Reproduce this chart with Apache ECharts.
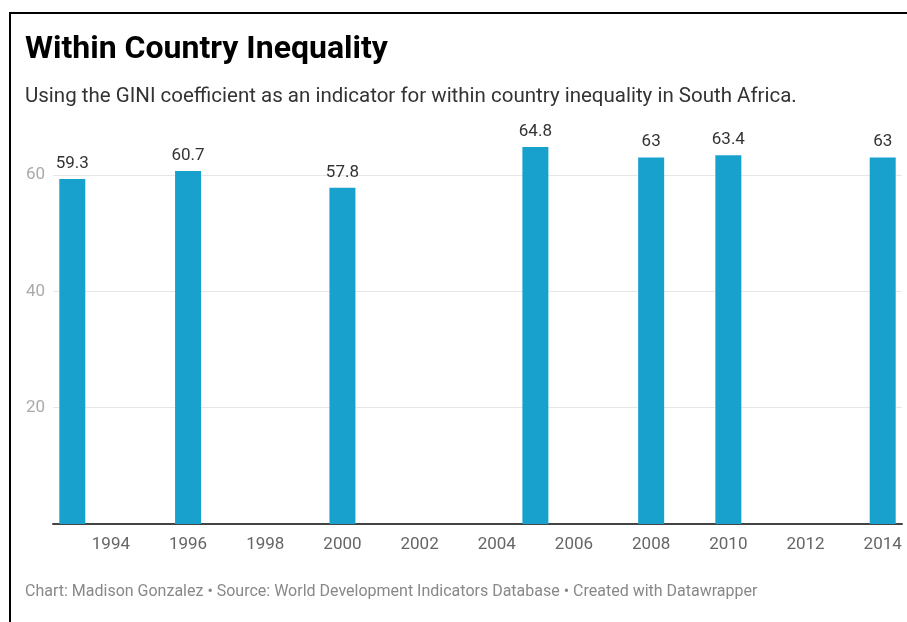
<!DOCTYPE html>
<html>
<head>
<meta charset="utf-8">
<script src="https://cdn.jsdelivr.net/npm/echarts@6/dist/echarts.min.js"></script>
<style>
html,body{margin:0;padding:0;background:#fff;}
#chart{width:907px;height:622px;}
</style>
</head>
<body>
<div id="chart"></div>
<script>
const years = ['1993','1994','1995','1996','1997','1998','1999','2000','2001','2002','2003','2004','2005','2006','2007','2008','2009','2010','2011','2012','2013','2014'];
const giniYears = ['1993','1996','2000','2005','2008','2010','2014'];
const giniValues = [59.3, 60.7, 57.8, 64.8, 63, 63.4, 63];
const yTicks = [0, 20, 40, 60];

const seriesData = years.map(y => {
  const i = giniYears.indexOf(y);
  return i >= 0 ? giniValues[i] : null;
});

const chart = echarts.init(document.getElementById('chart'), null, {renderer: 'canvas'});
chart.setOption({
  animation: false,
  backgroundColor: '#fff',
  textStyle: {fontFamily: 'Roboto'},
  title: [
    {text: 'Within Country Inequality', left: 20, top: 29,
     textStyle: {fontFamily: 'Roboto', fontWeight: 'bold', fontSize: 32, color: '#000'}},
    {text: 'Using the GINI coefficient as an indicator for within country inequality in South Africa.', left: 20, top: 81,
     textStyle: {fontFamily: 'Roboto', fontWeight: 'normal', fontSize: 20.5, color: '#333'}},
    {text: 'Chart: Madison Gonzalez \u2022 Source: World Development Indicators Database \u2022 Created with Datawrapper', left: 20, top: 579,
     textStyle: {fontFamily: 'Roboto', fontWeight: 'normal', fontSize: 16, color: '#888'}}
  ],
  graphic: [
    {type: 'rect', shape: {x: 10, y: 13, width: 1000, height: 700}, style: {fill: 'none', stroke: '#000', lineWidth: 2}, silent: true}
  ],
  grid: {left: 53, right: 5, top: 175, bottom: 98, containLabel: false},
  xAxis: {
    type: 'category',
    data: years,
    axisLine: {show: true, lineStyle: {color: '#444', width: 2}},
    axisTick: {show: false},
    axisLabel: {
      color: '#666', fontSize: 17, margin: 12,
      interval: (idx, val) => Number(val) % 2 === 0
    },
    splitLine: {show: false}
  },
  yAxis: {
    type: 'value',
    min: yTicks[0], max: yTicks[yTicks.length - 1], interval: 20,
    axisLine: {show: false},
    axisTick: {show: false},
    axisLabel: {color: '#aaa', fontSize: 17, margin: 8, showMinLabel: false,
      formatter: v => (v === 0 ? '' : String(v))},
    splitLine: {lineStyle: {color: '#e6e6e6', width: 1}}
  },
  series: [{
    type: 'bar',
    data: seriesData,
    barWidth: 26,
    clip: false,
    itemStyle: {color: '#18a1cd'},
    label: {show: true, position: 'top', distance: 7, color: '#333', fontSize: 17, fontFamily: 'Roboto'}
  }]
});
</script>
</body>
</html>
